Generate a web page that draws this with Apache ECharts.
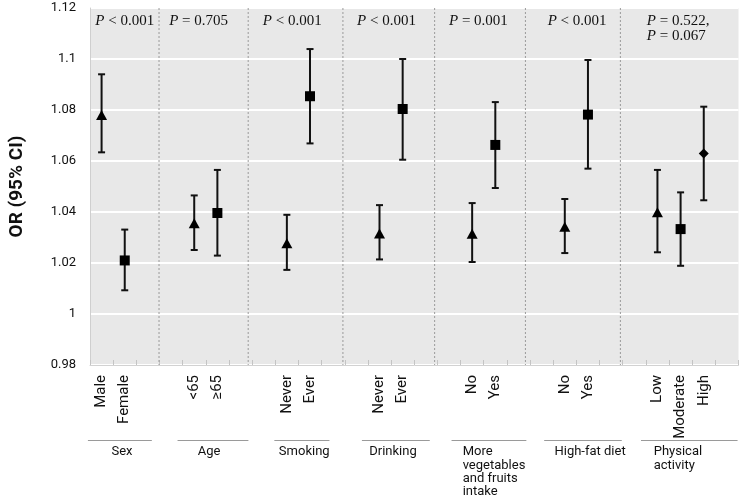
<!DOCTYPE html>
<html><head><meta charset="utf-8">
<script src="https://cdn.jsdelivr.net/npm/echarts@6/dist/echarts.min.js"></script>
<style>html,body{margin:0;padding:0;background:#fff}#c{width:741px;height:500px}</style>
</head><body><div id="c"></div>
<script>
// ---- data ----
const groupNames = ['Sex', 'Age', 'Smoking', 'Drinking', 'More\nvegetables\nand fruits\nintake', 'High-fat diet', 'Physical\nactivity'];
const groupLevels = [['Male', 'Female'], ['<65', '≥65'], ['Never', 'Ever'], ['Never', 'Ever'], ['No', 'Yes'], ['No', 'Yes'], ['Low', 'Moderate', 'High']];
const orValues = [1.078, 1.021, 1.0356, 1.0396, 1.0277, 1.0854, 1.0316, 1.0804, 1.0315, 1.0663, 1.0342, 1.0782, 1.0399, 1.0333, 1.0629];
const ciLower  = [1.0634, 1.0093, 1.0251, 1.0229, 1.0173, 1.0669, 1.0214, 1.0605, 1.0204, 1.0494, 1.0239, 1.057, 1.0242, 1.0189, 1.0446];
const ciUpper  = [1.094, 1.0331, 1.0465, 1.0565, 1.0389, 1.1039, 1.0427, 1.1, 1.0435, 1.0831, 1.0451, 1.0996, 1.0565, 1.0477, 1.0813];
const pTexts = [['< 0.001'], ['= 0.705'], ['< 0.001'], ['< 0.001'], ['= 0.001'], ['< 0.001'], ['= 0.522,', '= 0.067']];
const yMin = 0.98, yMax = 1.12, yStep = 0.02;

// ---- layout (axis units; category centers at integers) ----
const SLOTS = 4;
const sepPos = [2.48, 6.33, 10.42, 14.38, 18.3, 22.4];
const lineFrom = [-0.59, 3.28, 7.46, 11.24, 15.11, 19.11, 23.29];
const lineTo = [2.17, 6.34, 9.84, 14.17, 18.34, 22.46, 27.46];
const textX = [0.88, 4.64, 8.75, 12.58, 15.59, 21.09, 23.84];
const textAlign = ['center', 'center', 'center', 'center', 'left', 'center', 'left'];
const pX = [1.0, 4.19, 8.23, 12.3, 16.27, 20.53, 23.54];
const pAlign = ['center', 'center', 'center', 'center', 'center', 'center', 'left'];

// ---- build ----
const cats = [];
const pts = [];
const bars = [];
const symbols = ['triangle', 'rect', 'diamond'];
const symSizes = [[11, 10], [10, 10], [10, 10]];
let i = 0;
groupLevels.forEach((lv, g) => {
  for (let k = 0; k < SLOTS; k++) cats.push(lv[k] || '');
  lv.forEach((name, k) => {
    const x = g * SLOTS + k;
    pts.push({ value: [x, orValues[i]], symbol: symbols[k], symbolSize: symSizes[k] });
    bars.push([x, ciLower[i], ciUpper[i]]);
    i++;
  });
});
const nCat = cats.length;

const chart = echarts.init(document.getElementById('c'), null, { renderer: 'canvas' });
const FONT = 'Roboto, "DejaVu Sans", sans-serif';
const option = {
  animation: false,
  backgroundColor: '#fff',
  grid: { left: 88, right: 2.5, top: 8, bottom: 135, show: true, backgroundColor: '#e8e8e8', borderWidth: 0 },
  xAxis: [{
    type: 'category', data: cats, boundaryGap: true,
    axisLine: { show: true, onZero: false, lineStyle: { color: '#d2d2d2', width: 1 } },
    axisTick: { show: true, inside: true, length: 5, interval: 0, lineStyle: { color: '#c4c4c4' } },
    axisLabel: { rotate: 90, interval: 0, fontSize: 15, fontFamily: FONT, color: '#111', margin: 10 },
    splitLine: { show: false }
  }, {
    type: 'value', min: -0.5, max: nCat - 0.5, show: false
  }],
  yAxis: {
    type: 'value', min: yMin, max: yMax, interval: yStep,
    axisLabel: { formatter: v => String(+v.toFixed(2)), fontSize: 13, fontFamily: FONT, color: '#111', margin: 14 },
    splitLine: { show: true, lineStyle: { color: '#fff', width: 2 } },
    axisLine: { show: true, onZero: false, lineStyle: { color: '#cfcfcf' } },
    axisTick: { show: false },
    name: 'OR (95% CI)', nameLocation: 'middle', nameGap: 63,
    nameTextStyle: { fontSize: 19, fontWeight: 'bold', fontFamily: FONT, color: '#111' }
  },
  series: [
    {
      type: 'custom', xAxisIndex: 1, z: 1, silent: true,
      data: sepPos.map(p => [p]),
      encode: { x: 0 },
      renderItem: (params, api) => {
        const a = api.coord([api.value(0), yMax]);
        const b = api.coord([api.value(0), yMin]);
        return { type: 'line', shape: { x1: a[0], y1: a[1], x2: b[0], y2: b[1] },
          style: { stroke: '#9a9a9a', lineWidth: 1, lineDash: [2, 2] } };
      }
    },
    {
      type: 'custom', xAxisIndex: 0, z: 3, silent: true,
      data: bars,
      encode: { x: 0, y: [1, 2] },
      renderItem: (params, api) => {
        const lo = api.coord([api.value(0), api.value(1)]);
        const hi = api.coord([api.value(0), api.value(2)]);
        const cw = 3.5;
        const st = { stroke: '#111', lineWidth: 2 };
        return { type: 'group', children: [
          { type: 'line', shape: { x1: lo[0], y1: lo[1], x2: hi[0], y2: hi[1] }, style: st },
          { type: 'line', shape: { x1: lo[0] - cw, y1: lo[1], x2: lo[0] + cw, y2: lo[1] }, style: st },
          { type: 'line', shape: { x1: hi[0] - cw, y1: hi[1], x2: hi[0] + cw, y2: hi[1] }, style: st }
        ] };
      }
    },
    {
      type: 'scatter', xAxisIndex: 0, z: 4, silent: true,
      itemStyle: { color: '#000', opacity: 1 },
      data: pts
    },
    {
      type: 'custom', xAxisIndex: 1, z: 5, silent: true, clip: false,
      data: groupNames.map((n, g) => [g]),
      encode: { x: 0 },
      renderItem: (params, api) => {
        const g = params.dataIndex;
        const bottom = api.coord([0, yMin])[1];
        const top = api.coord([0, yMax])[1];
        const x1 = api.coord([lineFrom[g], yMin])[0];
        const x2 = api.coord([lineTo[g], yMin])[0];
        const tx = api.coord([textX[g], yMin])[0];
        const px = api.coord([pX[g], yMin])[0];
        const ly = bottom + 75.5;
        const children = [
          { type: 'line', shape: { x1: x1, y1: ly, x2: x2, y2: ly }, style: { stroke: '#9a9a9a', lineWidth: 1 } },
          { type: 'text', style: { text: groupNames[g], x: tx, y: ly + 5, align: textAlign[g], verticalAlign: 'top',
              font: '13px ' + FONT, lineHeight: 13.3, fill: '#111' } }
        ];
        pTexts[g].forEach((t, k) => {
          children.push({ type: 'text', style: {
            text: '{i|P} ' + t, x: px, y: top + 13 + k * 15.5, align: pAlign[g], verticalAlign: 'middle',
            font: '15px "Liberation Serif", "Times New Roman", serif', fill: '#111',
            rich: { i: { fontStyle: 'italic', fontSize: 15, fontFamily: '"Liberation Serif", serif', fill: '#111', color: '#111' } }
          } });
        });
        return { type: 'group', children: children };
      }
    }
  ]
};
chart.setOption(option);
</script>
</body></html>
